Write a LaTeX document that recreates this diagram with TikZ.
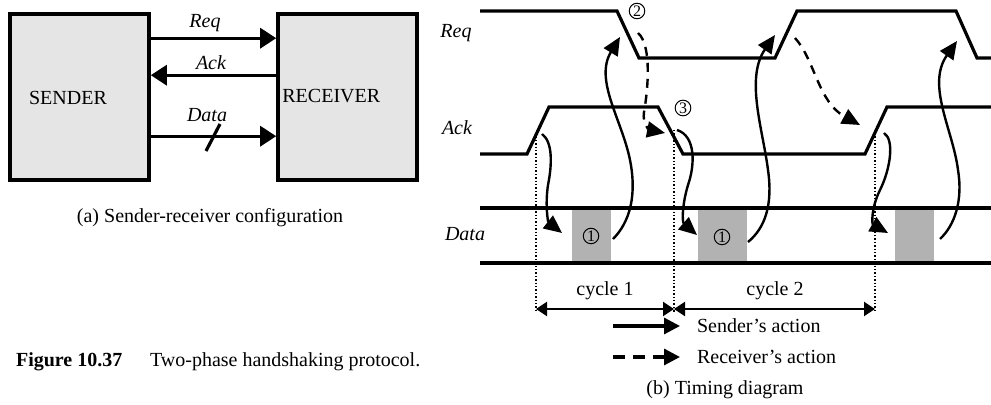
\documentclass[tikz,border=0pt]{standalone}
\usepackage{fontspec}
\setmainfont{Liberation Serif}
\usepackage{tikz}
\usetikzlibrary{arrows.meta}

\begin{document}
\begin{tikzpicture}[
    x=0.5pt, y=-0.5pt,
    font=\fontsize{10}{12}\selectfont,
    block/.style={rectangle, draw=black, fill=gray!20, line width=1.8pt, minimum width=69.5pt, minimum height=83pt},
    sig/.style={line width=1.6pt, -{Triangle[length=8pt, width=10pt]}},
    wave/.style={line width=1.6pt},
    slot/.style={fill=black!30, draw=none},
    marker/.style={densely dotted, line width=0.7pt},
    sender_act/.style={line width=1.2pt, -{Triangle[length=9pt, width=8pt]}},
    recv_act/.style={line width=1.2pt, dash pattern=on 4.5pt off 3.5pt, -{Triangle[length=9pt, width=8pt]}},
    span/.style={line width=1.2pt, {Triangle[length=5.5pt, width=7pt]}-{Triangle[length=5.5pt, width=7pt]}},
    numc/.style={circle, draw, line width=0.5pt, inner sep=0.4pt, minimum size=6.8pt, font=\fontsize{8}{8}\selectfont},
    sname/.style={font=\fontsize{10}{12}\selectfont\itshape}
]
\useasboundingbox (0,0) rectangle (991,405);

% (a) Sender-receiver configuration
\node[block] (sender) at (79.5,97) {};
\node[block] (receiver) at (347.5,97) {};
\node (sendtxt) at (68,98) {SENDER};
\node[anchor=west, inner sep=0pt] (recvtxt) at (282,96) {RECEIVER};

\draw[sig] ([yshift=-13pt]sender.north east) -- ([yshift=-13pt]receiver.north west);
\draw[sig] ([yshift=-31.5pt]receiver.north west) -- ([yshift=-31.5pt]sender.north east);
\draw[sig] ([yshift=-62pt]sender.north east) -- ([yshift=-62pt]receiver.north west);
\draw[line width=1.6pt] (206,151) -- (220,124);

\node[sname] (reqa) at (205,23) {Req};
\node[sname] (acka) at (211,63) {Ack};
\node[sname] (dataa) at (207,115) {Data};

\node (capa) at (210,218) {(a) Sender-receiver configuration};

% Figure caption
\node[anchor=west, font=\fontsize{10}{12}\selectfont\bfseries] (fignum) at (9,362) {Figure 10.37};
\node[anchor=west] (figtxt) at (143,362) {Two-phase handshaking protocol.};

% (b) Timing diagram: signal names
\node[sname] (reqb) at (456,33) {Req};
\node[sname] (ackb) at (457,128) {Ack};
\node[sname] (datab) at (465,234) {Data};

% Data slots
\fill[slot] (572,208) rectangle (611,263);
\fill[slot] (698,208) rectangle (747,263);
\fill[slot] (895,208) rectangle (934,263);

% Waveforms
\draw[wave] (480,11) -- (617,11) -- (639,58) -- (775,58) -- (797,11) -- (956,11) -- (977,58) -- (991,58);
\draw[wave] (480,154) -- (527,154) -- (549,107) -- (658,107) -- (683,154) -- (865,154) -- (887,107) -- (991,107);
\draw[wave] (480,208) -- (991,208);
\draw[wave] (480,263) -- (991,263);

% Cycle markers
\draw[marker] (536,133) -- (536,312);
\draw[marker] (674,130) -- (674,312);
\draw[marker] (875,133) -- (875,312);

% Event numbers
\node[numc] (e1a) at (591,236) {1};
\node[numc] (e1b) at (722,237) {1};
\node[numc] (e2) at (637,11) {2};
\node[numc] (e3) at (683,108) {3};

% Sender's actions
\coordinate (s1a) at (542,134);  \coordinate (s1b) at (562,233);
\coordinate (s2a) at (613,239);  \coordinate (s2b) at (620,37);
\coordinate (s3a) at (677,130);  \coordinate (s3b) at (697,235);
\coordinate (s4a) at (748,242);  \coordinate (s4b) at (775,35);
\coordinate (s5a) at (884,133);  \coordinate (s5b) at (888,233);
\coordinate (s6a) at (940,239);  \coordinate (s6b) at (957,41);
\draw[sender_act] (s1a) .. controls (553,142) and (552,165) .. (548,185) .. controls (545,205) and (548,222) .. (s1b);
\draw[sender_act] (s2a) .. controls (630,222) and (637,195) .. (630,160) .. controls (622,120) and (594,80) .. (s2b);
\draw[sender_act] (s3a) .. controls (696,136) and (695,165) .. (688,185) .. controls (682,205) and (682,222) .. (s3b);
\draw[sender_act] (s4a) .. controls (765,228) and (773,205) .. (768,170) .. controls (763,130) and (745,78) .. (s4b);
\draw[sender_act] (s5a) .. controls (895,140) and (890,170) .. (880,190) .. controls (871,208) and (872,224) .. (s5b);
\draw[sender_act] (s6a) .. controls (955,225) and (963,200) .. (958,170) .. controls (953,130) and (926,85) .. (s6b);

% Receiver's actions
\coordinate (r1a) at (638,33);  \coordinate (r1b) at (665,133);
\coordinate (r2a) at (795,38);  \coordinate (r2b) at (860,125);
\draw[recv_act] (r1a) .. controls (652,45) and (648,90) .. (644,112) .. controls (642,124) and (650,130) .. (r1b);
\draw[recv_act] (r2a) .. controls (815,60) and (818,102) .. (r2b);

% Cycles
\draw[span] (536,309) -- (674,309);
\draw[span] (674,309) -- (875,309);
\node (cyc1) at (605,291) {cycle 1};
\node (cyc2) at (775,291) {cycle 2};

% Legend
\coordinate (lg1a) at (613,326);  \coordinate (lg1b) at (680,326);
\coordinate (lg2a) at (613,357);  \coordinate (lg2b) at (680,357);
\draw[line width=1.6pt, -{Triangle[length=8pt, width=8pt]}] (lg1a) -- (lg1b);
\draw[line width=1.6pt, dash pattern=on 6pt off 4pt, -{Triangle[length=8pt, width=8pt]}] (lg2a) -- (lg2b);
\node[anchor=west] (lgs) at (690,326) {Sender's action};
\node[anchor=west] (lgr) at (690,357) {Receiver's action};

\node (capb) at (725,390) {(b) Timing diagram};

\end{tikzpicture}
\end{document}
